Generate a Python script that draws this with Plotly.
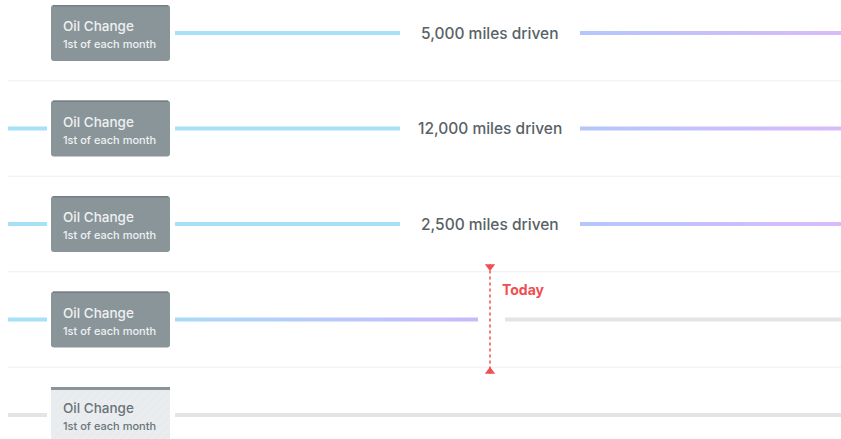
import plotly.graph_objects as go

# ---- data ---------------------------------------------------------------
ROWS = [0, 1, 2, 3, 4]
BOX_TITLES = ["Oil Change", "Oil Change", "Oil Change", "Oil Change", "Oil Change"]
BOX_SUBTITLES = ["1st of each month"] * 5
MILES_DRIVEN = [5000, 12000, 2500, None, None]
STATUS = ["done", "done", "done", "current", "upcoming"]
TODAY_LABEL = "Today"

# ---- style / geometry ---------------------------------------------------
W, H = 841, 439
ROW_PX = 95.5          # pixels per row
TOP_PX = 33            # pixel centre of the first row
FONT = "Inter, Lato, sans-serif"

CYAN = "#a6e1f8"
PURPLE_A = "#b5c6fc"
PURPLE_B = "#d8bbf9"
GREY_LINE = "#e4e4e6"
SEP = "#efefef"
BOX_DARK = "#8a959a"
BOX_EDGE = "#747f84"
BOX_LIGHT = "#e9edef"
TEXT = "#596267"
RED = "#f04e50"

BOX_X0, BOX_X1 = 51, 170
BOX_H = 56
LEFT_X0, LEFT_X1 = 8, 47
RIGHT_X0 = 175
LABEL_GAP = (400, 580)
TODAY_X = 490
LINE_W = 4


def dy(px):
    return px / ROW_PX


fig = go.Figure()


def solid(x0, x1, row, color):
    fig.add_trace(go.Scatter(x=[x0, x1], y=[row, row], mode="lines",
                             line=dict(color=color, width=LINE_W),
                             hoverinfo="skip", showlegend=False))


def gradient(x0, x1, row, c0, c1):
    h = dy(LINE_W / 2)
    fig.add_trace(go.Scatter(
        x=[x0, x1, x1, x0, x0], y=[row - h, row - h, row + h, row + h, row - h],
        mode="lines", line=dict(width=0), fill="toself",
        fillgradient=dict(type="horizontal", colorscale=[[0, c0], [1, c1]]),
        hoverinfo="skip", showlegend=False))


def rounded(x0, x1, y0, y1, r=3):
    ry = dy(r)
    return (f"M {x0 + r},{y0} L {x1 - r},{y0} Q {x1},{y0} {x1},{y0 + ry} "
            f"L {x1},{y1 - ry} Q {x1},{y1} {x1 - r},{y1} L {x0 + r},{y1} "
            f"Q {x0},{y1} {x0},{y1 - ry} L {x0},{y0 + ry} Q {x0},{y0} {x0 + r},{y0} Z")


shapes = []
annotations = []

# row separators
for row in ROWS[:-1]:
    shapes.append(dict(type="line", x0=LEFT_X0, x1=W, y0=row + 0.5, y1=row + 0.5,
                       line=dict(color=SEP, width=1), layer="below"))

for row, title, sub, miles, status in zip(ROWS, BOX_TITLES, BOX_SUBTITLES,
                                          MILES_DRIVEN, STATUS):
    # lead-in segment left of the box
    if row > 0:
        solid(LEFT_X0, LEFT_X1, row, GREY_LINE if status == "upcoming" else CYAN)

    if status == "done":
        solid(RIGHT_X0, LABEL_GAP[0], row, CYAN)
        gradient(LABEL_GAP[1], W, row, PURPLE_A, PURPLE_B)
        annotations.append(dict(x=(LABEL_GAP[0] + LABEL_GAP[1]) / 2, y=row,
                                text=f"{miles:,} miles driven", showarrow=False,
                                font=dict(family=FONT, size=15.5, color=TEXT, weight=500),
                                xanchor="center", yanchor="middle"))
    elif status == "current":
        gradient(RIGHT_X0, TODAY_X - 12, row, "#a9daf9", "#c9b9f9")
        solid(TODAY_X + 15, W, row, GREY_LINE)
    else:
        solid(RIGHT_X0, W, row, GREY_LINE)

    y0, y1 = row - dy(BOX_H / 2), row + dy(BOX_H / 2)
    if status == "upcoming":
        fig.add_trace(go.Scatter(
            x=[BOX_X0, BOX_X1, BOX_X1, BOX_X0, BOX_X0], y=[y0, y0, y1, y1, y0],
            mode="lines", line=dict(width=0), fill="toself", fillcolor=BOX_LIGHT,
            fillpattern=dict(shape="/", fgcolor="#dde2e4", bgcolor=BOX_LIGHT,
                             size=6, solidity=0.15),
            hoverinfo="skip", showlegend=False))
        shapes.append(dict(type="rect", x0=BOX_X0, x1=BOX_X1, y0=y0, y1=y0 + dy(3),
                           fillcolor=BOX_DARK, line=dict(width=0)))
        tcol = "#6a7378"
    else:
        shapes.append(dict(type="path", path=rounded(BOX_X0, BOX_X1, y0, y1),
                           fillcolor=BOX_DARK, line=dict(width=0)))
        shapes.append(dict(type="rect", x0=BOX_X0 + 2, x1=BOX_X1 - 2, y0=y0,
                           y1=y0 + dy(1.5), fillcolor=BOX_EDGE, line=dict(width=0)))
        tcol = "#eef1f2"
    annotations.append(dict(x=BOX_X0 + 10, y=row - dy(7), text=title, showarrow=False,
                            font=dict(family=FONT, size=13.5, color=tcol, weight=500),
                            xanchor="left", yanchor="middle"))
    annotations.append(dict(x=BOX_X0 + 10, y=row + dy(11), text=sub, showarrow=False,
                            font=dict(family=FONT, size=11, color=tcol, weight=500),
                            xanchor="left", yanchor="middle"))

# today marker
today_row = STATUS.index("current")
t0, t1 = today_row - dy(55), today_row + dy(54)
shapes.append(dict(type="line", x0=TODAY_X, x1=TODAY_X, y0=t0, y1=t1,
                   line=dict(color=RED, width=1.5, dash="dot")))
fig.add_trace(go.Scatter(x=[TODAY_X, TODAY_X], y=[t0 + dy(2), t1 - dy(2)], mode="markers",
                         marker=dict(symbol=["triangle-down", "triangle-up"], size=9,
                                     color=RED, line=dict(width=0)),
                         hoverinfo="skip", showlegend=False))
annotations.append(dict(x=TODAY_X + 10, y=today_row - dy(30), text=f"<b>{TODAY_LABEL}</b>",
                        showarrow=False, font=dict(family=FONT, size=14, color=RED),
                        xanchor="left", yanchor="middle"))

fig.update_layout(
    width=W, height=H,
    margin=dict(l=0, r=0, t=0, b=0),
    paper_bgcolor="white", plot_bgcolor="white",
    xaxis=dict(range=[0, W], visible=False, fixedrange=True),
    yaxis=dict(range=[(H - TOP_PX) / ROW_PX, -TOP_PX / ROW_PX],
               visible=False, fixedrange=True),
    shapes=shapes, annotations=annotations,
)

# drop the default 8px page margin so the figure fills the window
fig.write_html("out.html", config={"displayModeBar": False},
               post_script="document.body.style.margin='0';"
                           "document.body.style.overflow='hidden';")
